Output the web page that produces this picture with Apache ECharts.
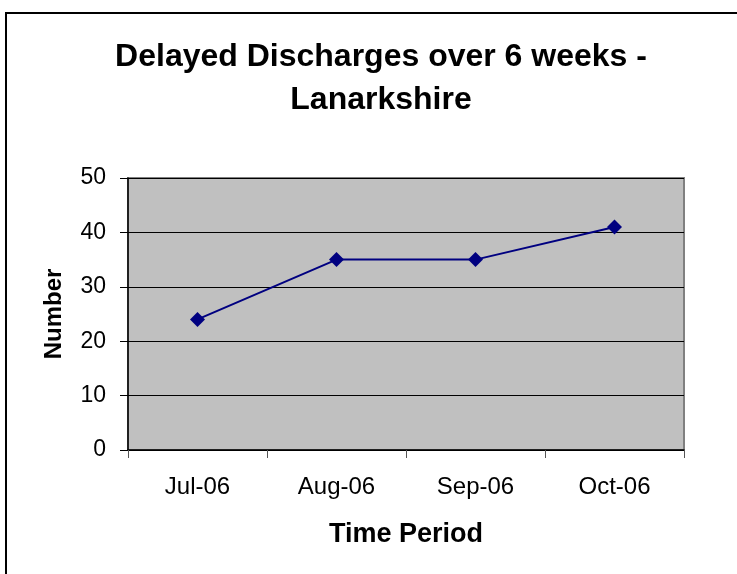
<!DOCTYPE html>
<html>
<head>
<meta charset="utf-8">
<script src="https://cdn.jsdelivr.net/npm/echarts@6/dist/echarts.min.js"></script>
<style>
  html, body { margin: 0; padding: 0; background: #fff; }
  #main { width: 737px; height: 574px; }
</style>
</head>
<body>
<div id="main"></div>
<script>
var categories = ['Jul-06', 'Aug-06', 'Sep-06', 'Oct-06'];
var discharges = [24, 35, 35, 41];
var yTicks = { min: 0, max: 50, interval: 10 };

var font = '"Liberation Sans", Arial, sans-serif';
var myChart = echarts.init(document.getElementById('main'));

var option = {
    backgroundColor: '#fff',
    animation: false,
    title: {
        text: 'Delayed Discharges over 6 weeks -\nLanarkshire',
        left: 376,
        top: 31,
        textAlign: 'center',
        textStyle: {
            fontFamily: font,
            fontSize: 32,
            fontWeight: 'bold',
            color: '#000',
            lineHeight: 43
        }
    },
    graphic: [
        {
            // outer chart frame (only top and left edges visible)
            type: 'rect',
            shape: { x: 6, y: 13, width: 900, height: 800 },
            style: { fill: 'none', stroke: '#000', lineWidth: 2 },
            silent: true
        }
    ],
    grid: {
        left: 128,
        right: 53,
        top: 178,
        bottom: 124,
        show: true,
        backgroundColor: '#c0c0c0',
        borderColor: '#808080',
        borderWidth: 2
    },
    xAxis: {
        type: 'category',
        data: categories,
        boundaryGap: true,
        name: 'Time Period',
        nameLocation: 'middle',
        nameGap: 71,
        nameTextStyle: { fontFamily: font, fontSize: 27, fontWeight: 'bold', color: '#000' },
        axisLine: { lineStyle: { color: '#000', width: 1.5 } },
        axisTick: { show: true, length: 8, inside: false, lineStyle: { color: '#555' } },
        axisLabel: { fontFamily: font, fontSize: 24, color: '#000', margin: 25 },
        splitLine: { show: false }
    },
    yAxis: {
        type: 'value',
        min: yTicks.min,
        max: yTicks.max,
        interval: yTicks.interval,
        name: 'Number',
        nameLocation: 'middle',
        nameGap: 62,
        nameRotate: 90,
        nameTextStyle: { fontFamily: font, fontSize: 24, fontWeight: 'bold', color: '#000' },
        axisLine: { show: true, lineStyle: { color: '#000', width: 1.5 } },
        axisTick: { show: true, length: 8, lineStyle: { color: '#000' } },
        axisLabel: { fontFamily: font, fontSize: 23, color: '#000', margin: 22 },
        splitLine: { show: true, lineStyle: { color: '#000', width: 1 } }
    },
    series: [
        {
            name: 'Delayed Discharges',
            type: 'line',
            data: discharges,
            symbol: 'diamond',
            symbolSize: 15,
            lineStyle: { color: '#000080', width: 2 },
            itemStyle: { color: '#000080' }
        }
    ]
};
myChart.setOption(option);

window.onresize = function () {
    myChart.resize();
};
</script>
</body>
</html>
